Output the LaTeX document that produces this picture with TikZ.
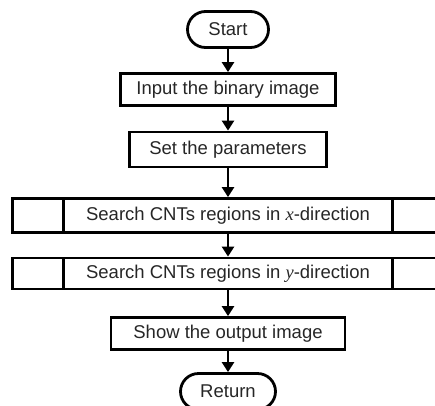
\documentclass[tikz,border=0pt]{standalone}
\usepackage{fontspec}
\setmainfont{Liberation Sans}
\newfontfamily\varfont{Liberation Serif}
\usetikzlibrary{positioning, arrows.meta}
\tikzset{->, >={Triangle[length=10pt, width=12pt]}, node distance=60pt,
every node/.style={font=\fontsize{18.5}{22}\selectfont, text=black!85},
terminal/.style={draw, -, line width=2.8pt, rounded corners=18pt, minimum height=36pt},
process/.style={draw, -, line width=2.8pt, minimum height=32pt},
subproc/.style={process, path picture={
  \draw[line width=2.4pt] ([xshift=51pt]path picture bounding box.north west) -- ([xshift=51pt]path picture bounding box.south west);
  \draw[line width=2.4pt] ([xshift=-51pt]path picture bounding box.north east) -- ([xshift=-51pt]path picture bounding box.south east);
}},
}
\newcommand{\var}[1]{{\varfont\itshape #1}}

\begin{document}
\begin{tikzpicture}[x=1pt, y=1pt, line width=2.4pt]
            \useasboundingbox (0,0) rectangle (435,-405);

            \node[terminal, minimum width=81pt] (start) at (228,-29.5) {Start};
            \node[process, below of=start, minimum width=215pt] (input) {Input the binary image};
            \node[process, below of=input, minimum width=197pt, minimum height=35pt] (set) {Set the parameters};
            \node[subproc, below of=set, node distance=66pt, minimum width=431pt, minimum height=34pt] (srchx) {Search CNTs regions in \var{x}-direction};
            \node[subproc, below of=srchx, node distance=58pt, minimum width=431pt, minimum height=31pt] (srchy) {Search CNTs regions in \var{y}-direction};
            \node[process, below of=srchy, minimum width=234pt] (show) {Show the output image};
            \node[terminal, below of=show, node distance=58pt, minimum width=95pt] (ret) {Return};

            \draw (start) -- (input);
            \draw (input) -- (set);
            \draw (set) -- (srchx);
            \draw (srchx) -- (srchy);
            \draw (srchy) -- (show);
            \draw (show) -- (ret);
        \end{tikzpicture}
\end{document}
